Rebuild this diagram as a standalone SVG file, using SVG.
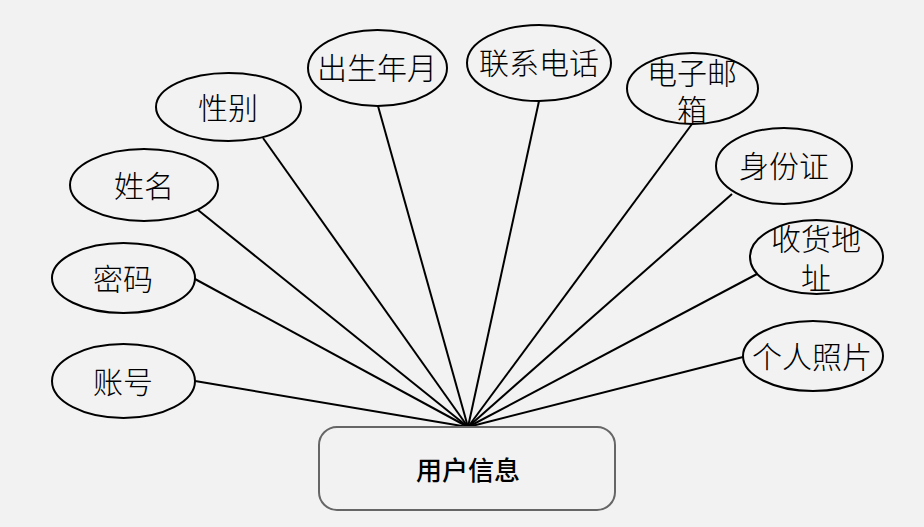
<svg xmlns="http://www.w3.org/2000/svg" width="924" height="527" viewBox="0 0 924 527">
<style>
.bg{fill:#f2f2f2}
.attr ellipse{fill:none;stroke:#000;stroke-width:2}
.attr text{font-family:"Noto Sans CJK SC","Noto Sans",sans-serif;font-size:30px;font-weight:300;fill:#000;text-anchor:middle;dominant-baseline:central}
#edges line{stroke:#000;stroke-width:2}
.ent rect{fill:none;stroke:#666;stroke-width:2}
.ent text{font-family:"Noto Sans CJK SC","Noto Sans",sans-serif;font-size:26px;font-weight:500;fill:#000;text-anchor:middle;dominant-baseline:central}
</style>
<rect class="bg" x="0" y="0" width="924" height="527"/>
<g id="edges">
<line x1="195" y1="381" x2="468" y2="427"/>
<line x1="195" y1="279" x2="468" y2="427"/>
<line x1="198" y1="210" x2="468" y2="427"/>
<line x1="263" y1="138" x2="468" y2="427"/>
<line x1="378" y1="106" x2="468" y2="427"/>
<line x1="539" y1="101" x2="468" y2="427"/>
<line x1="692" y1="124" x2="468" y2="427"/>
<line x1="732" y1="194" x2="468" y2="427"/>
<line x1="757" y1="274" x2="468" y2="427"/>
<line x1="743" y1="357" x2="468" y2="427"/>
</g>
<g id="user-info" class="ent">
<rect x="319" y="427" width="296" height="83" rx="18"/>
<text x="468" y="468">用户信息</text>
</g>
<g id="account" class="attr">
<ellipse cx="123.5" cy="381" rx="71.5" ry="37"/>
<text x="123" y="380">账号</text>
</g>
<g id="password" class="attr">
<ellipse cx="123.5" cy="278" rx="71.5" ry="35"/>
<text x="123" y="277">密码</text>
</g>
<g id="name" class="attr">
<ellipse cx="144" cy="185" rx="74" ry="36"/>
<text x="144" y="184">姓名</text>
</g>
<g id="gender" class="attr">
<ellipse cx="228.5" cy="107" rx="72.5" ry="34"/>
<text x="228" y="106">性别</text>
</g>
<g id="birth" class="attr">
<ellipse cx="377.5" cy="68" rx="69.5" ry="38"/>
<text x="377" y="66">出生年月</text>
</g>
<g id="phone" class="attr">
<ellipse cx="539" cy="63" rx="72" ry="38"/>
<text x="539" y="61">联系电话</text>
</g>
<g id="email" class="attr">
<ellipse cx="692.5" cy="88.5" rx="65.5" ry="35.5"/>
<text x="692" y="71">电子邮<tspan x="692" y="108">箱</tspan></text>
</g>
<g id="idcard" class="attr">
<ellipse cx="784" cy="166" rx="68" ry="38"/>
<text x="784" y="164">身份证</text>
</g>
<g id="address" class="attr">
<ellipse cx="816.5" cy="257" rx="66.5" ry="37"/>
<text x="816" y="237">收货地<tspan x="816" y="276">址</tspan></text>
</g>
<g id="photo" class="attr">
<ellipse cx="813" cy="356" rx="70" ry="35"/>
<text x="812" y="355">个人照片</text>
</g>
</svg>
